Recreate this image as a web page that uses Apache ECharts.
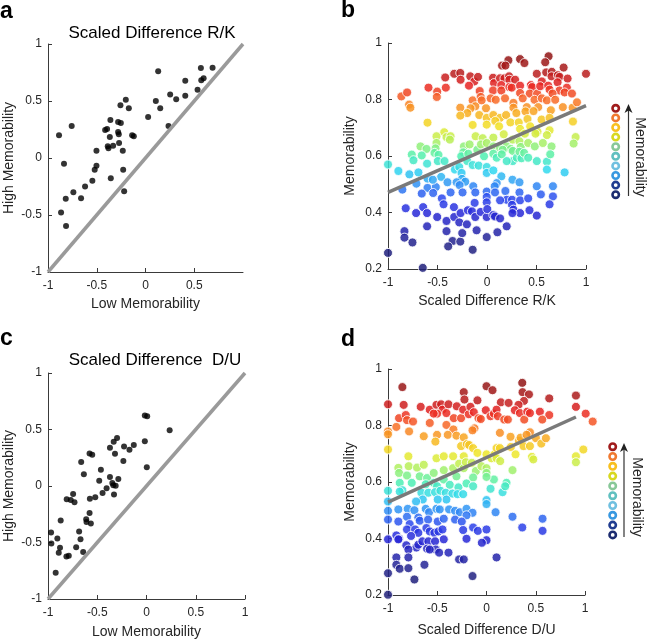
<!DOCTYPE html>
<html><head><meta charset="utf-8">
<script src="https://cdn.jsdelivr.net/npm/echarts@6/dist/echarts.min.js"></script>
<style>html,body{margin:0;padding:0;background:#fff}#c{width:647px;height:640px}</style>
</head><body><div id="c"></div>
<script>
// ---------- data ----------
const aPoints = [[-0.887,0.199],[-0.757,0.281],[-0.836,-0.050],[-0.866,-0.477],[-0.818,-0.357],[-0.815,-0.596],[-0.740,-0.301],[-0.661,-0.354],[-0.620,-0.251],[-0.545,-0.199],[-0.521,-0.102],[-0.503,-0.067],[-0.503,0.064],[-0.414,0.246],[-0.394,0.254],[-0.366,0.184],[-0.360,0.333],[-0.387,0.102],[-0.380,0.085],[-0.332,0.108],[-0.356,-0.178],[-0.281,0.316],[-0.253,0.307],[-0.281,0.228],[-0.274,0.208],[-0.271,0.132],[-0.257,0.462],[-0.202,0.512],[-0.171,0.436],[-0.233,0.064],[-0.229,-0.102],[-0.219,-0.292],[-0.137,0.199],[-0.120,0.190],[0.027,0.360],[0.106,0.500],[0.130,0.760],[0.151,0.436],[0.236,0.281],[0.253,0.556],[0.315,0.515],[0.408,0.547],[0.408,0.678],[0.534,0.599],[0.572,0.681],[0.596,0.699],[0.568,0.789],[0.688,0.792]];

const cPoints = [[-0.969,-0.412],[-0.966,-0.509],[-0.922,-0.768],[-0.905,-0.465],[-0.891,-0.591],[-0.878,-0.547],[-0.871,-0.306],[-0.813,-0.624],[-0.789,-0.618],[-0.810,-0.118],[-0.769,-0.124],[-0.745,-0.071],[-0.731,-0.144],[-0.714,-0.541],[-0.684,-0.403],[-0.670,-0.471],[-0.663,0.212],[-0.636,0.103],[-0.643,-0.585],[-0.612,-0.294],[-0.609,-0.318],[-0.575,-0.112],[-0.578,-0.238],[-0.565,-0.332],[-0.578,0.288],[-0.551,0.276],[-0.520,-0.100],[-0.480,0.047],[-0.463,0.144],[-0.446,-0.062],[-0.405,-0.021],[-0.371,0.079],[-0.371,0.338],[-0.347,0.026],[-0.337,0.006],[-0.330,-0.076],[-0.333,0.391],[-0.320,0.285],[-0.313,0.003],[-0.299,0.424],[-0.286,0.062],[-0.235,0.221],[-0.228,0.350],[-0.173,0.321],[-0.129,0.362],[-0.017,0.397],[-0.017,0.624],[0.007,0.618],[0.003,0.165],[0.235,0.494]];

const bPoints = [
[0.334,0.943],[0.378,0.929],[0.216,0.939],[0.152,0.920],[0.186,0.920],[0.622,0.953],[0.588,0.932],[0.774,0.913],[1.0,0.891],[-0.331,0.891],[-0.270,0.894],[-0.267,0.870],[-0.422,0.878],[-0.169,0.882],[-0.128,0.864],[-0.091,0.880],[0.061,0.877],[0.071,0.858],[0.132,0.875],[0.176,0.875],[0.223,0.882],[0.226,0.870],[0.284,0.870],[0.503,0.891],[0.554,0.864],[0.598,0.896],[0.655,0.898],[0.652,0.882],[0.716,0.886],[0.733,0.880],[0.814,0.874],[0.713,0.861],[0.145,0.851],
[-0.591,0.842],[-0.503,0.828],[-0.416,0.842],[-0.182,0.849],[-0.074,0.830],[0.061,0.832],[0.145,0.832],[0.226,0.844],[0.250,0.842],[0.334,0.849],[0.334,0.823],[0.443,0.851],[0.456,0.844],[0.432,0.821],[0.507,0.821],[0.537,0.847],[0.618,0.849],[0.632,0.835],[0.733,0.832],[0.807,0.842],[0.784,0.825],[0.858,0.821],[0.662,0.821],
[-0.865,0.811],[-0.807,0.825],[-0.787,0.782],[-0.774,0.771],[-0.507,0.809],[-0.145,0.797],[-0.118,0.776],[-0.064,0.809],[-0.054,0.797],[-0.270,0.771],[-0.166,0.769],[-0.010,0.769],[0.037,0.804],[0.088,0.799],[0.182,0.804],[0.267,0.788],[0.267,0.771],[0.361,0.804],[0.402,0.773],[0.480,0.799],[0.517,0.773],[0.554,0.804],[0.605,0.797],[0.689,0.799],[0.766,0.773],[0.865,0.771],[0.909,0.790],[0.645,0.762],
[-0.199,0.752],[-0.270,0.743],[-0.078,0.745],[-0.003,0.735],[0.064,0.745],[0.132,0.735],[0.193,0.745],[0.297,0.752],[0.389,0.758],[0.470,0.759],[-0.601,0.718],[-0.145,0.710],[-0.003,0.711],[0.084,0.724],[0.122,0.705],[0.236,0.719],[0.321,0.719],[0.409,0.731],[0.551,0.729],[0.632,0.735],[0.868,0.722],[0.334,0.696],[0.436,0.705],[0.510,0.686],[0.632,0.691],
[-0.432,0.684],[-0.510,0.670],[-0.409,0.667],[-0.368,0.670],[-0.375,0.658],[-0.115,0.670],[-0.044,0.663],[0.064,0.665],[0.169,0.677],[0.260,0.658],[0.382,0.679],[0.490,0.679],[0.605,0.674],[0.895,0.667],[0.875,0.644],[-0.510,0.646],[-0.520,0.627],[-0.672,0.634],[-0.611,0.625],[-0.233,0.634],[-0.240,0.613],[-0.176,0.641],[-0.098,0.622],[-0.061,0.641],[-0.003,0.646],[0.064,0.634],[0.132,0.629],[0.199,0.634],[0.240,0.625],[0.328,0.652],[0.341,0.632],[0.416,0.646],[0.483,0.634],[0.564,0.646],[0.652,0.634],
[-0.760,0.605],[-0.743,0.585],[-0.659,0.602],[-0.530,0.611],[-0.490,0.604],[-0.605,0.573],[-0.497,0.582],[-0.429,0.582],[-0.260,0.599],[-0.189,0.608],[-0.199,0.582],[-0.030,0.599],[0.064,0.608],[0.098,0.594],[0.159,0.622],[0.149,0.606],[0.260,0.618],[0.260,0.582],[0.301,0.594],[0.328,0.615],[0.348,0.592],[0.375,0.611],[0.416,0.594],[0.503,0.582],[0.605,0.580],[0.639,0.606],[0.199,0.582],
[-1.0,0.570],[-0.895,0.547],[-0.784,0.535],[-0.693,0.542],[-0.713,0.502],[-0.601,0.520],[-0.463,0.526],[-0.399,0.507],[-0.324,0.552],[-0.280,0.561],[-0.257,0.540],[-0.253,0.519],[-0.220,0.509],[-0.307,0.507],[-0.145,0.568],[-0.084,0.566],[-0.003,0.561],[-0.003,0.540],[0.064,0.549],[0.145,0.528],[0.098,0.504],[0.257,0.516],[0.328,0.507],[0.503,0.493],[0.605,0.552],[0.784,0.542],
[-0.855,0.481],[-0.601,0.487],[-0.517,0.490],[-0.547,0.516],[-0.544,0.469],[-0.659,0.467],[-0.456,0.450],[-0.368,0.471],[-0.277,0.497],[-0.247,0.471],[-0.139,0.493],[-0.118,0.471],[-0.003,0.474],[-0.003,0.455],[-0.003,0.436],[0.078,0.493],[0.081,0.471],[0.186,0.476],[0.199,0.445],[0.253,0.445],[0.328,0.471],[0.334,0.443],[0.416,0.450],[0.544,0.464],[0.666,0.493],[0.666,0.457],[0.632,0.429],[0.253,0.427],[0.267,0.410],[0.132,0.443],[-0.439,0.429],[-0.125,0.434],
[-0.821,0.415],[-0.716,0.398],[-0.645,0.419],[-0.605,0.398],[-0.605,0.351],[-0.503,0.384],[-0.409,0.370],[-0.331,0.384],[-0.334,0.419],[-0.280,0.365],[-0.267,0.398],[-0.193,0.408],[-0.152,0.404],[-0.118,0.384],[-0.105,0.337],[-0.064,0.402],[-0.003,0.384],[0.003,0.412],[0.064,0.391],[0.081,0.386],[0.132,0.379],[0.199,0.351],[0.334,0.398],[0.429,0.408],[0.503,0.389],[-0.003,0.313],[0.105,0.330],[-0.203,0.358],[-0.409,0.334],[-0.348,0.299],[-0.392,0.280],[-0.270,0.297],[-0.250,0.327],[-0.145,0.268],[-0.834,0.334],[-0.834,0.311],[-0.753,0.294],[-1.0,0.257],[-0.649,0.204],[0.257,0.398]
];

const dPoints = [
[-0.854,0.936],[0.363,0.951],[0.366,0.918],[0.431,0.910],[0.380,0.887],[0.0,0.939],[0.061,0.925],[-0.231,0.918],[-0.224,0.892],[-0.092,0.889],[0.146,0.882],[0.224,0.880],[0.325,0.873],[0.637,0.896],[0.908,0.906],[0.908,0.866],[1.007,0.842],[1.078,0.814],
[-1.0,0.875],[-0.841,0.873],[-0.668,0.866],[-0.576,0.856],[-0.508,0.873],[-0.461,0.875],[-0.447,0.856],[-0.386,0.875],[-0.302,0.868],[-0.407,0.844],[-0.502,0.842],[-0.536,0.842],[-0.332,0.826],[-0.258,0.826],[-0.237,0.856],[-0.180,0.840],[-0.163,0.866],[-0.129,0.847],[-0.007,0.854],[0.041,0.833],[0.075,0.842],[0.102,0.856],[0.115,0.833],[0.180,0.821],[0.217,0.821],[0.288,0.854],[0.339,0.844],[0.383,0.821],[0.414,0.849],[0.441,0.844],[0.542,0.849],[0.637,0.837],[0.566,0.821],[-0.888,0.826],[-0.820,0.837],[-0.807,0.819],[-0.746,0.814],[-0.081,0.826],[-0.058,0.823],
[-1.0,0.779],[-1.0,0.769],[-0.786,0.779],[-0.915,0.795],[-0.576,0.809],[-0.407,0.802],[-0.336,0.786],[-0.393,0.767],[-0.502,0.767],[-0.637,0.762],[-0.519,0.743],[-0.305,0.764],[-0.231,0.758],[-0.122,0.790],[-0.142,0.783],[0.136,0.774],[0.244,0.760],[0.329,0.746],[0.346,0.757],[0.502,0.755],[0.556,0.736],[0.603,0.755],[0.441,0.776],[0.407,0.767],
[-1.0,0.715],[-0.793,0.691],[-0.508,0.684],[-0.434,0.691],[-0.339,0.691],[-0.258,0.727],[-0.231,0.691],[-0.200,0.734],[-0.176,0.731],[-0.136,0.720],[-0.092,0.703],[0.0,0.698],[0.051,0.684],[0.081,0.698],[0.102,0.720],[0.136,0.720],[0.247,0.724],[0.295,0.698],[0.376,0.727],[0.441,0.727],[0.461,0.689],[0.475,0.680],[0.983,0.715],[0.908,0.691],[0.908,0.670],
[-0.895,0.650],[-0.790,0.656],[-0.705,0.651],[-0.637,0.661],[-0.888,0.632],[-0.807,0.623],[-0.678,0.620],[-0.603,0.614],[-0.536,0.632],[-0.434,0.642],[-0.339,0.649],[-0.278,0.665],[-0.231,0.649],[-0.210,0.670],[-0.149,0.668],[-0.108,0.639],[-0.051,0.656],[0.0,0.649],[0.102,0.684],[0.139,0.674],[0.264,0.642],[0.075,0.609],[-0.434,0.609],[-0.305,0.620],[-0.136,0.616],[0.0,0.632],[0.0,0.618],[0.203,0.597],
[-0.881,0.597],[-0.759,0.597],[-0.617,0.592],[-0.536,0.597],[-0.502,0.585],[-0.373,0.590],[-0.285,0.581],[-0.203,0.595],[-0.136,0.585],[-0.854,0.571],[-0.881,0.566],[-1.0,0.569],[-0.661,0.562],[-0.590,0.562],[-0.522,0.564],[-0.468,0.569],[-0.414,0.562],[-0.346,0.559],[-0.295,0.557],[-0.237,0.557],[0.041,0.576],[0.163,0.564],[0.190,0.585],[0.0,0.536],[-0.407,0.538],[-0.495,0.538],[-0.647,0.538],[-0.715,0.531],
[-1.0,0.531],[-1.0,0.498],[-0.895,0.503],[-0.800,0.505],[-0.732,0.500],[-0.692,0.474],[-0.617,0.505],[-0.583,0.493],[-0.508,0.505],[-0.475,0.503],[-0.380,0.503],[-0.319,0.498],[-0.271,0.493],[-0.203,0.505],[-0.142,0.491],[-0.203,0.482],[0.0,0.522],[0.092,0.493],[0.264,0.477],[0.363,0.439],[0.569,0.470],[0.569,0.427],
[-1.0,0.467],[-0.895,0.460],[-0.807,0.477],[-0.780,0.451],[-0.678,0.463],[-0.593,0.467],[-0.495,0.460],[-0.434,0.470],[-0.319,0.467],[-0.251,0.460],[-0.237,0.430],[-0.136,0.439],[-0.088,0.427],[0.0,0.432],[-0.203,0.399],[0.0,0.394],[-0.047,0.385],[-0.434,0.397],[-0.610,0.437],[-0.576,0.425],[-0.529,0.420],[-0.488,0.425],[-0.447,0.432],[-0.915,0.411],[-0.888,0.399],[-0.807,0.432],[-0.725,0.432],[-0.692,0.420],[-0.766,0.409],
[-1.0,0.397],[-0.895,0.397],[-0.814,0.376],[-0.712,0.368],[-0.692,0.378],[-0.651,0.390],[-0.590,0.390],[-0.603,0.364],[-0.522,0.390],[-0.515,0.361],[-0.576,0.361],[-0.481,0.350],[-0.793,0.361],[-0.915,0.333],[-0.915,0.307],[-0.793,0.333],[-0.881,0.293],[-0.793,0.295],[-0.630,0.307],[-0.732,0.255],[-1.0,0.277],[-1.0,0.201],[-0.278,0.326],[-0.231,0.326],[-0.142,0.267],[0.102,0.333],[-0.386,0.350]
];

const diagLine = [[-1,-1],[1,1]];
const bFit = [[-1,0.471],[1,0.778]];
const dFit = [[-1,0.529],[0.908,0.830]];

const legendColors = ['#a01c1c','#f07a30','#f8c020','#d8d820','#88c898','#60c0c0','#70c0e0','#3898e0','#203c90','#1c2c70'];
const jetColors = ['#20207a','#232390','#2525b8','#2828d8','#2c48ee','#3090f4','#30d8f0','#50f0b0','#b0f060','#f0e828','#f8b020','#f86a28','#e82222','#b01c1c','#901414'];

// ---------- chart ----------
const FONT = "'Liberation Sans', Arial, sans-serif";
const AX = '#3a3a3a';
const chart = echarts.init(document.getElementById('c'), null, {renderer: 'canvas'});

const grids = [
  {left: 48, top: 44, width: 195, height: 228},
  {left: 388, top: 43, width: 198, height: 226},
  {left: 48, top: 373, width: 197, height: 226},
  {left: 388, top: 369, width: 197, height: 226}
];

function axis(gi, min, max, interval, name, gap, isX, hideMax) {
  return {
    type: 'value', gridIndex: gi, min, max, interval,
    name, nameLocation: 'middle', nameGap: gap,
    nameTextStyle: {fontFamily: FONT, fontSize: 14, color: '#262626'},
    axisLine: {show: true, onZero: false, lineStyle: {color: AX, width: 1}},
    axisTick: {show: true, inside: true, length: 4, lineStyle: {color: AX}},
    axisLabel: {fontFamily: FONT, fontSize: 12, color: '#262626', margin: isX ? 8 : 6,
      showMaxLabel: hideMax ? false : true, formatter: v => String(+v.toFixed(2))},
    splitLine: {show: false}
  };
}

const xAxes = [
  axis(0, -1, 1, 0.5, 'Low Memorability', 25, true, true),
  axis(1, -1, 1, 0.5, 'Scaled Difference R/K', 25, true, false),
  axis(2, -1, 1, 0.5, 'Low Memorability', 26, true, false),
  axis(3, -1, 1, 0.5, 'Scaled Difference D/U', 28, true, false)
];
const yAxes = [
  axis(0, -1, 1, 0.5, 'High Memorability', 32, false, false),
  axis(1, 0.2, 1, 0.2, 'Memorability', 31, false, false),
  axis(2, -1, 1, 0.5, 'High Memorability', 32, false, false),
  axis(3, 0.2, 1, 0.2, 'Memorability', 31, false, false)
];

function blackScatter(gi, data) {
  return {type: 'scatter', xAxisIndex: gi, yAxisIndex: gi, data, symbolSize: 6,
    itemStyle: {color: '#000'}, silent: true, z: 3};
}
function colorScatter(gi, data) {
  return {type: 'scatter', xAxisIndex: gi, yAxisIndex: gi, data, symbolSize: 9, clip: false,
    itemStyle: {borderColor: '#fff', borderWidth: 1, opacity: 0.85}, silent: true, z: 2};
}
function lineS(gi, data, color) {
  return {type: 'line', xAxisIndex: gi, yAxisIndex: gi, data, symbol: 'none', silent: true,
    lineStyle: {color, width: 3.5}, z: 4, animation: false};
}

const series = [
  blackScatter(0, aPoints),
  lineS(0, diagLine, '#9a9a9a'),
  colorScatter(1, bPoints),
  lineS(1, bFit, '#7a7a7a'),
  blackScatter(2, cPoints),
  lineS(2, diagLine, '#9a9a9a'),
  colorScatter(3, dPoints),
  lineS(3, dFit, '#7a7a7a')
];

function legendGraphic(cx, y0, step, ax, aTop, aBot, tx, ty) {
  const els = legendColors.map((c, i) => ({
    type: 'circle', shape: {cx, cy: y0 + i * step, r: 3.2},
    style: {fill: '#fff', stroke: c, lineWidth: 2.6}, silent: true
  }));
  els.push({type: 'line', shape: {x1: ax, y1: aBot, x2: ax, y2: aTop + 4},
    style: {stroke: '#333', lineWidth: 1.2}, silent: true});
  els.push({type: 'polygon', shape: {points: [[ax, aTop], [ax - 4, aTop + 9], [ax, aTop + 6.5], [ax + 4, aTop + 9]]},
    style: {fill: '#222'}, silent: true});
  els.push({type: 'text', x: tx, y: ty, rotation: -Math.PI / 2,
    style: {text: 'Memorability', font: '14px ' + FONT, fill: '#262626', textAlign: 'center', textVerticalAlign: 'middle'}, silent: true});
  return els;
}

function txt(x, y, text, size, bold, align) {
  return {type: 'text', x, y, silent: true,
    style: {text, font: (bold ? 'bold ' : '') + size + 'px ' + FONT, fill: '#000',
      textAlign: align || 'left', textVerticalAlign: 'middle'}};
}

const graphic = [
  txt(0, 12, 'a', 23, true), txt(341, 11, 'b', 23, true),
  txt(0, 339, 'c', 23, true), txt(341, 340, 'd', 23, true),
  txt(152, 33, 'Scaled Difference R/K', 17, false, 'center'),
  txt(155, 360, 'Scaled Difference  D/U', 17, false, 'center'),
  ...legendGraphic(615.7, 108.3, 9.6, 628.5, 104, 196, 640, 157),
  ...legendGraphic(612.7, 446.7, 9.8, 624, 443, 537, 637, 497)
];

chart.setOption({
  animation: false,
  backgroundColor: '#fff',
  grid: grids,
  xAxis: xAxes,
  yAxis: yAxes,
  visualMap: [{type: 'continuous', show: false, seriesIndex: [2, 6], dimension: 1,
    min: 0.25, max: 0.95, inRange: {color: jetColors}}],
  series,
  graphic
});
</script></body></html>
